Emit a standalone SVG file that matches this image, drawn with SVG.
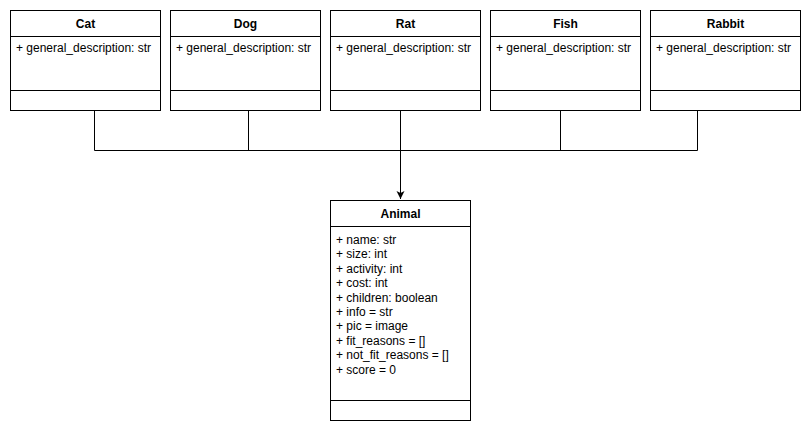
<svg xmlns="http://www.w3.org/2000/svg" width="812" height="432" viewBox="0 0 812 432">
<style>
.box{fill:#fff;stroke:#000;stroke-width:1}
.ln{stroke:#000;stroke-width:1;fill:none}
.t{font-family:"Liberation Sans",Arial,sans-serif;font-size:12px;font-weight:bold;text-anchor:middle;fill:#000}
.a{font-family:"Liberation Sans",Arial,sans-serif;font-size:12px;fill:#000}
</style>
<defs>
<marker id="arr" markerWidth="10" markerHeight="10" refX="8" refY="4" orient="auto" markerUnits="userSpaceOnUse">
<path d="M0,0 L8,4 L0,8 L2,4 Z" fill="#000"/>
</marker>
</defs>
<rect width="812" height="432" fill="#fff"/>
<g id="connectors">
<path class="ln" d="M94.5,110 V150.5 H697.5 V110"/>
<path class="ln" d="M248.5,110 V150.5"/>
<path class="ln" d="M560.5,110 V150.5"/>
<path class="ln" d="M400.5,110 V199" marker-end="url(#arr)"/>
</g>
<g id="cat">
<rect class="box" x="10.5" y="10.5" width="150" height="100"/>
<path class="ln" d="M10.5,36.5 H160.5 M10.5,90.5 H160.5"/>
<text class="t" x="85.5" y="28">Cat</text>
<text class="a" x="16" y="52">+ general_description: str</text>
</g>
<g id="dog">
<rect class="box" x="170.5" y="10.5" width="150" height="100"/>
<path class="ln" d="M170.5,36.5 H320.5 M170.5,90.5 H320.5"/>
<text class="t" x="245.5" y="28">Dog</text>
<text class="a" x="176" y="52">+ general_description: str</text>
</g>
<g id="rat">
<rect class="box" x="330.5" y="10.5" width="150" height="100"/>
<path class="ln" d="M330.5,36.5 H480.5 M330.5,90.5 H480.5"/>
<text class="t" x="405.5" y="28">Rat</text>
<text class="a" x="336" y="52">+ general_description: str</text>
</g>
<g id="fish">
<rect class="box" x="490.5" y="10.5" width="150" height="100"/>
<path class="ln" d="M490.5,36.5 H640.5 M490.5,90.5 H640.5"/>
<text class="t" x="565.5" y="28">Fish</text>
<text class="a" x="496" y="52">+ general_description: str</text>
</g>
<g id="rabbit">
<rect class="box" x="650.5" y="10.5" width="150" height="100"/>
<path class="ln" d="M650.5,36.5 H800.5 M650.5,90.5 H800.5"/>
<text class="t" x="725.5" y="28">Rabbit</text>
<text class="a" x="656" y="52">+ general_description: str</text>
</g>
<g id="animal">
<rect class="box" x="330.5" y="200.5" width="140" height="220"/>
<path class="ln" d="M330.5,226.5 H470.5 M330.5,400.5 H470.5"/>
<text class="t" x="400.5" y="218">Animal</text>
<text class="a" x="336" y="244">+ name: str</text>
<text class="a" x="336" y="258.4">+ size: int</text>
<text class="a" x="336" y="272.8">+ activity: int</text>
<text class="a" x="336" y="287.2">+ cost: int</text>
<text class="a" x="336" y="301.6">+ children: boolean</text>
<text class="a" x="336" y="316">+ info = str</text>
<text class="a" x="336" y="330.4">+ pic = image</text>
<text class="a" x="336" y="344.8">+ fit_reasons = []</text>
<text class="a" x="336" y="359.2">+ not_fit_reasons = []</text>
<text class="a" x="336" y="373.6">+ score = 0</text>
</g>
</svg>
